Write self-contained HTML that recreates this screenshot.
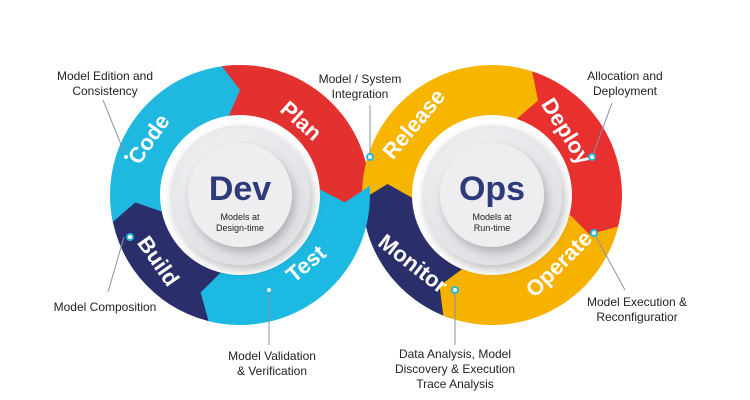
<!DOCTYPE html>
<html><head><meta charset="utf-8"><style>
body{margin:0;background:#fff;}
svg{display:block;font-family:"Liberation Sans",sans-serif;}
.lab{font-size:12px;fill:#222;text-anchor:middle;}
.seg{font-size:22px;font-weight:bold;fill:#fff;text-anchor:middle;dominant-baseline:middle;}
</style></head><body>
<svg width="750" height="400" viewBox="0 0 750 400" xmlns="http://www.w3.org/2000/svg">
<defs>
<radialGradient id="disc" cx="0.45" cy="0.4" r="0.7"><stop offset="0" stop-color="#fafafa"/><stop offset="1" stop-color="#dcdde2"/></radialGradient>
<filter id="sh" x="-30%" y="-30%" width="160%" height="160%"><feDropShadow dx="3" dy="5" stdDeviation="5" flood-color="#000" flood-opacity="0.25"/></filter>
</defs>
<g id="rings"></g>
<circle cx="240" cy="195" r="70" fill="url(#disc)" filter="url(#sh)"/>
<circle cx="240" cy="195" r="52" fill="#eeeef1" filter="url(#sh)"/>
<circle cx="492" cy="195" r="70" fill="url(#disc)" filter="url(#sh)"/>
<circle cx="492" cy="195" r="52" fill="#eeeef1" filter="url(#sh)"/>
<text x="240" y="200" font-size="34" font-weight="bold" fill="#2e3a7a" text-anchor="middle">Dev</text>
<text x="240" y="220" font-size="9" fill="#222" text-anchor="middle">Models at</text>
<text x="240" y="231" font-size="9" fill="#222" text-anchor="middle">Design-time</text>
<text x="492" y="200" font-size="34" font-weight="bold" fill="#2e3a7a" text-anchor="middle">Ops</text>
<text x="492" y="220" font-size="9" fill="#222" text-anchor="middle">Models at</text>
<text x="492" y="231" font-size="9" fill="#222" text-anchor="middle">Run-time</text>
<text class="seg" transform="translate(150,140) rotate(-55)">Code</text>
<text class="seg" transform="translate(300,122) rotate(42)">Plan</text>
<text class="seg" transform="translate(157,262) rotate(55)">Build</text>
<text class="seg" transform="translate(307,265) rotate(-40)">Test</text>
<text class="seg" transform="translate(415,125) rotate(-50)">Release</text>
<text class="seg" transform="translate(565,132) rotate(58)">Deploy</text>
<text class="seg" transform="translate(560,265) rotate(-45)">Operate</text>
<text class="seg" transform="translate(412,265) rotate(38)">Monitor</text>
<g stroke="#8a90a8" stroke-width="1" fill="none">
<line x1="103" y1="100" x2="126" y2="157"/>
<line x1="124" y1="237" x2="108" y2="292"/>
<line x1="269" y1="290" x2="269" y2="345"/>
<line x1="370" y1="105" x2="370" y2="157"/>
<line x1="612" y1="103" x2="592" y2="157"/>
<line x1="594" y1="233" x2="625" y2="290"/>
<line x1="455" y1="290" x2="455" y2="345"/>
</g>
<g fill="#fff" stroke="#1fb8e0" stroke-width="2">
<circle cx="126" cy="157" r="3"/><circle cx="130" cy="237" r="3"/><circle cx="269" cy="290" r="3"/>
<circle cx="370" cy="157" r="3"/><circle cx="592" cy="157" r="3"/><circle cx="594" cy="233" r="3"/><circle cx="455" cy="290" r="3"/>
</g>
<text class="lab" x="105" y="80">Model Edition and</text>
<text class="lab" x="105" y="95">Consistency</text>
<text class="lab" x="105" y="311">Model Composition</text>
<text class="lab" x="272" y="360">Model Validation</text>
<text class="lab" x="272" y="375">&amp; Verification</text>
<text class="lab" x="360" y="83">Model / System</text>
<text class="lab" x="360" y="98">Integration</text>
<text class="lab" x="625" y="80">Allocation and</text>
<text class="lab" x="625" y="95">Deployment</text>
<text class="lab" x="637" y="306">Model Execution &amp;</text>
<text class="lab" x="637" y="321">Reconfiguratior</text>
<text class="lab" x="455" y="358">Data Analysis, Model</text>
<text class="lab" x="455" y="373">Discovery &amp; Execution</text>
<text class="lab" x="455" y="388">Trace Analysis</text>
</svg>
<script>
function arc(cx,cy,r1,r2,a0,a1,notch){
 var R=Math.PI/180,p=function(r,a){return [cx+r*Math.cos(a*R),cy+r*Math.sin(a*R)];};
 var m=(r1+r2)/2,n=notch||0;
 var A=p(r2,a0),B=p(r2,a1),Ct=p(m,a1+n),D=p(r1,a1),E=p(r1,a0),F=p(m,a0+n);
 var lg=((a1-a0+360)%360)>180?1:0;
 return "M"+A+" A"+r2+","+r2+" 0 "+lg+" 1 "+B+" L"+Ct+" L"+D+" A"+r1+","+r1+" 0 "+lg+" 0 "+E+" L"+F+"Z";
}
var segs=[
 [240,195,'#2a2f6b',100,172],
 [240,195,'#1fb8e0',168,268],
 [240,195,'#e3312f',262,362],
 [492,195,'#2a2f6b',108,182],
 [492,195,'#f7b500',178,292],
 [492,195,'#e8302e',288,378],
 [492,195,'#f7b200',14,112],
 [240,195,'#1cb9e2',-4,104]
];
var g=document.getElementById('rings'),h='';
segs.forEach(function(s){h+='<path d="'+arc(s[0],s[1],80,130,s[3],s[4],8)+'" fill="'+s[2]+'"/>';});
g.innerHTML=h;
</script>
</body></html>
